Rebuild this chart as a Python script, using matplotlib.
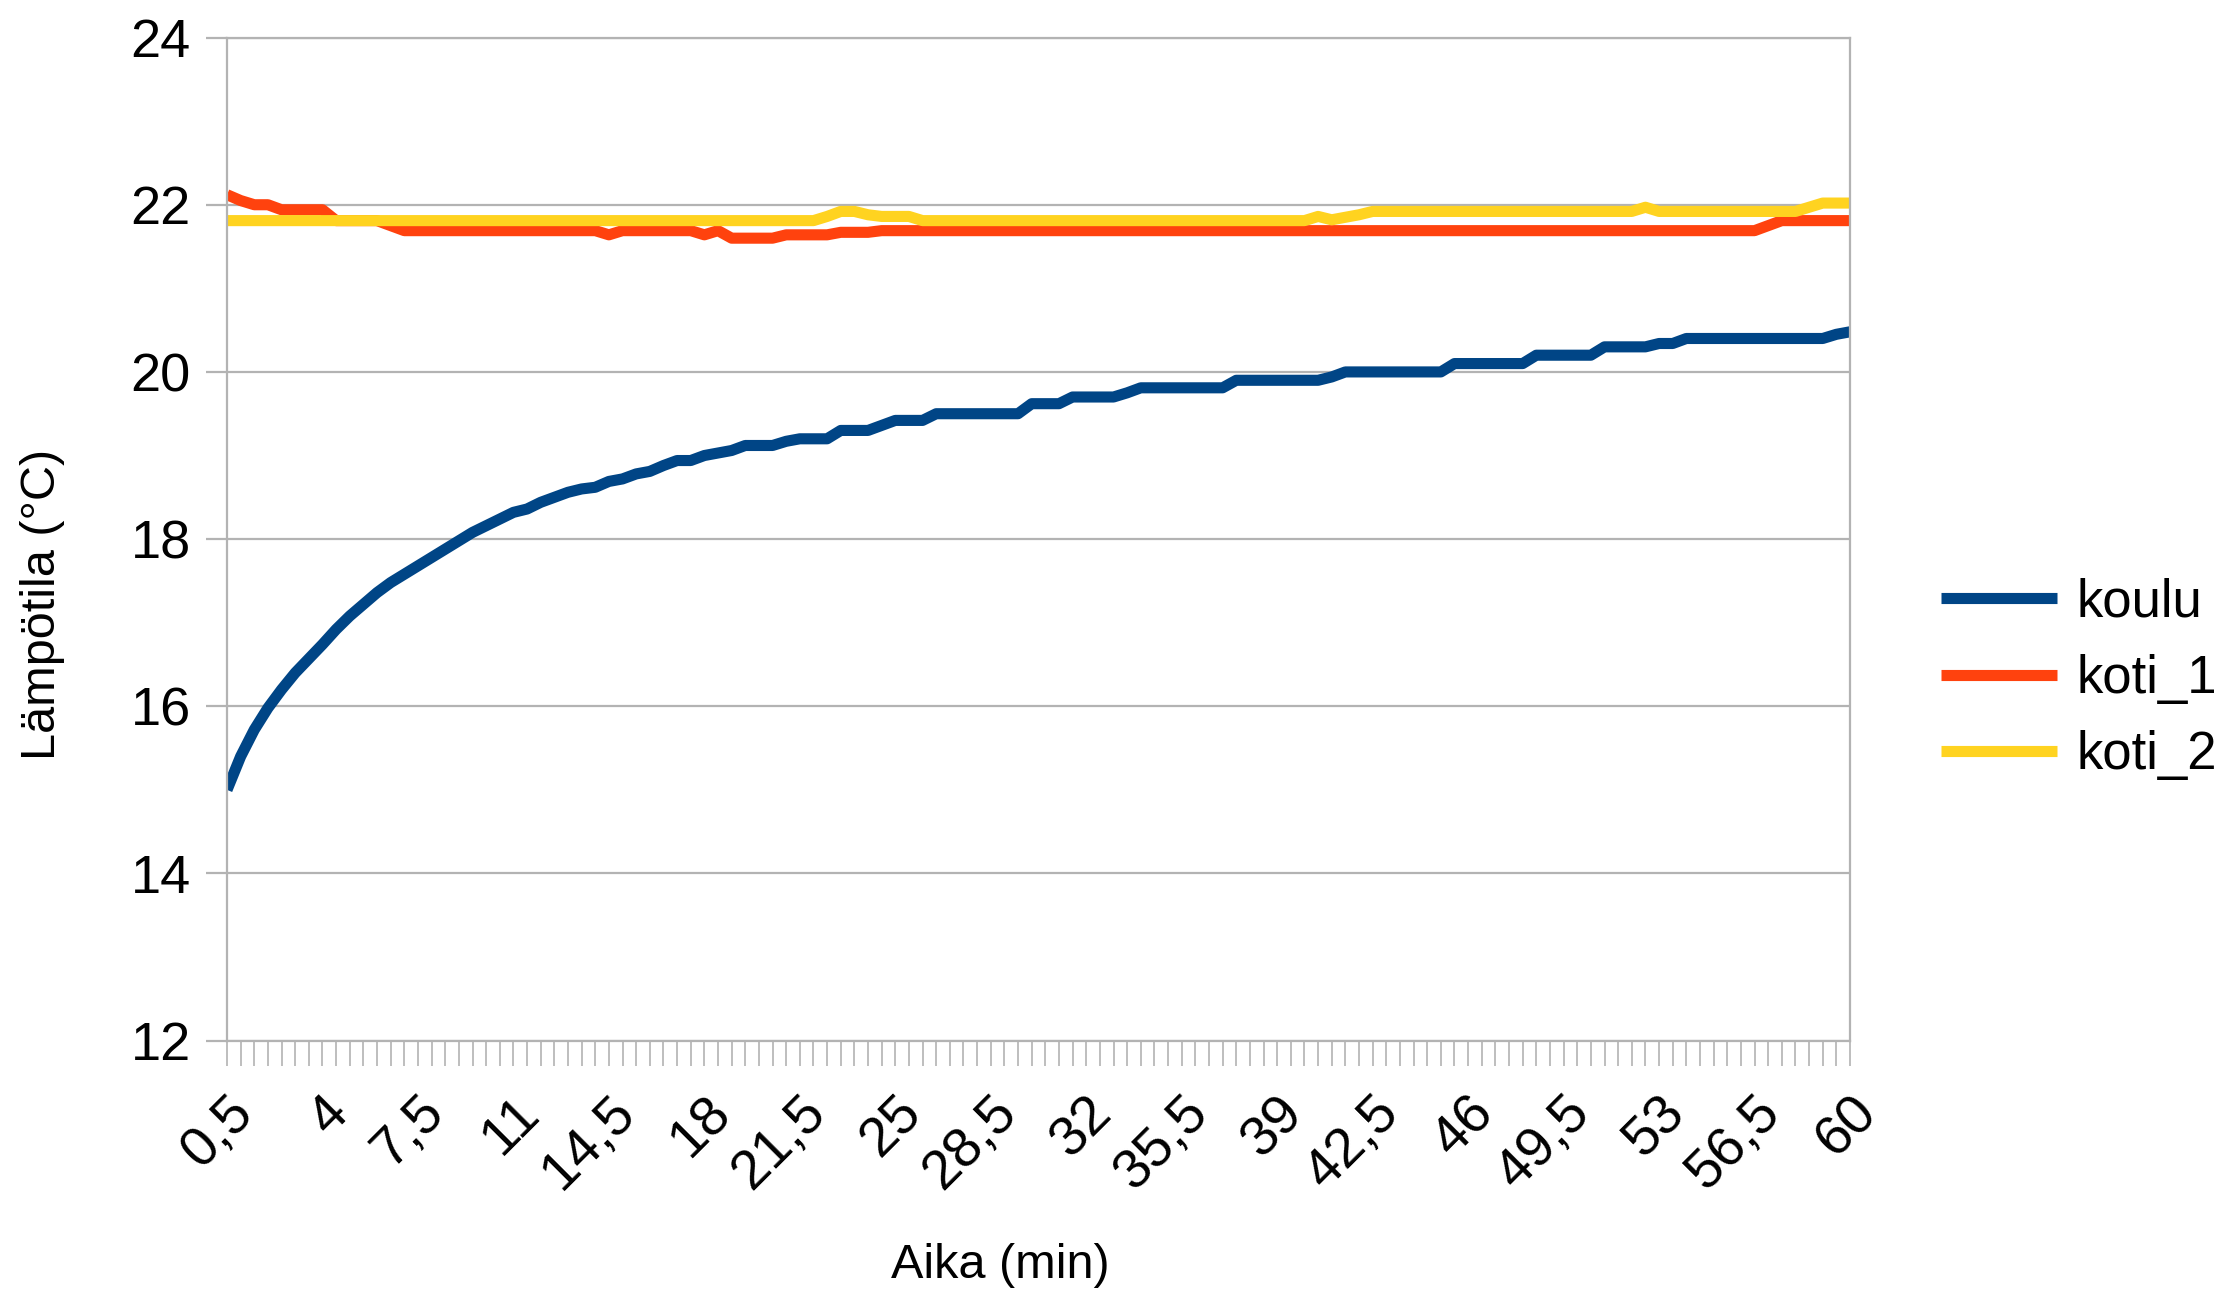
import numpy as np
import matplotlib
matplotlib.use("Agg")
import matplotlib.pyplot as plt

plt.rcParams["font.family"] = ["Liberation Sans", "DejaVu Sans"]

# time categories (min), one reading every half minute
aika = np.arange(0.5, 60.01, 0.5)

koulu = [
    15.0, 15.4, 15.72, 15.98, 16.2, 16.4, 16.57, 16.74, 16.92, 17.08,
    17.22, 17.36, 17.48, 17.58, 17.68, 17.78, 17.88, 17.98, 18.08, 18.16,
    18.24, 18.32, 18.36, 18.44, 18.5, 18.56, 18.6, 18.62, 18.69, 18.72,
    18.78, 18.81, 18.88, 18.94, 18.94, 19.0, 19.03, 19.06, 19.12, 19.12,
    19.12, 19.17, 19.2, 19.2, 19.2, 19.3, 19.3, 19.3, 19.36, 19.42,
    19.42, 19.42, 19.5, 19.5, 19.5, 19.5, 19.5, 19.5, 19.5, 19.62,
    19.62, 19.62, 19.7, 19.7, 19.7, 19.7, 19.75, 19.81, 19.81, 19.81,
    19.81, 19.81, 19.81, 19.81, 19.9, 19.9, 19.9, 19.9, 19.9, 19.9,
    19.9, 19.94, 20.0, 20.0, 20.0, 20.0, 20.0, 20.0, 20.0, 20.0,
    20.1, 20.1, 20.1, 20.1, 20.1, 20.1, 20.2, 20.2, 20.2, 20.2,
    20.2, 20.3, 20.3, 20.3, 20.3, 20.34, 20.34, 20.4, 20.4, 20.4,
    20.4, 20.4, 20.4, 20.4, 20.4, 20.4, 20.4, 20.4, 20.45, 20.48,
]

koti_1 = [
    22.12, 22.05, 22.0, 22.0, 21.94, 21.94, 21.94, 21.94, 21.81, 21.81,
    21.81, 21.81, 21.75, 21.69, 21.69, 21.69, 21.69, 21.69, 21.69, 21.69,
    21.69, 21.69, 21.69, 21.69, 21.69, 21.69, 21.69, 21.69, 21.64, 21.69,
    21.69, 21.69, 21.69, 21.69, 21.69, 21.64, 21.69, 21.6, 21.6, 21.6,
    21.6, 21.64, 21.64, 21.64, 21.64, 21.67, 21.67, 21.67, 21.69, 21.69,
    21.69, 21.69, 21.69, 21.69, 21.69, 21.69, 21.69, 21.69, 21.69, 21.69,
    21.69, 21.69, 21.69, 21.69, 21.69, 21.69, 21.69, 21.69, 21.69, 21.69,
    21.69, 21.69, 21.69, 21.69, 21.69, 21.69, 21.69, 21.69, 21.69, 21.69,
    21.69, 21.69, 21.69, 21.69, 21.69, 21.69, 21.69, 21.69, 21.69, 21.69,
    21.69, 21.69, 21.69, 21.69, 21.69, 21.69, 21.69, 21.69, 21.69, 21.69,
    21.69, 21.69, 21.69, 21.69, 21.69, 21.69, 21.69, 21.69, 21.69, 21.69,
    21.69, 21.69, 21.69, 21.75, 21.81, 21.81, 21.81, 21.81, 21.81, 21.81,
]

koti_2 = [
    21.81, 21.81, 21.81, 21.81, 21.81, 21.81, 21.81, 21.81, 21.81, 21.81,
    21.81, 21.81, 21.81, 21.81, 21.81, 21.81, 21.81, 21.81, 21.81, 21.81,
    21.81, 21.81, 21.81, 21.81, 21.81, 21.81, 21.81, 21.81, 21.81, 21.81,
    21.81, 21.81, 21.81, 21.81, 21.81, 21.81, 21.81, 21.81, 21.81, 21.81,
    21.81, 21.81, 21.81, 21.81, 21.86, 21.92, 21.92, 21.88, 21.86, 21.86,
    21.86, 21.81, 21.81, 21.81, 21.81, 21.81, 21.81, 21.81, 21.81, 21.81,
    21.81, 21.81, 21.81, 21.81, 21.81, 21.81, 21.81, 21.81, 21.81, 21.81,
    21.81, 21.81, 21.81, 21.81, 21.81, 21.81, 21.81, 21.81, 21.81, 21.81,
    21.86, 21.82, 21.85, 21.88, 21.92, 21.92, 21.92, 21.92, 21.92, 21.92,
    21.92, 21.92, 21.92, 21.92, 21.92, 21.92, 21.92, 21.92, 21.92, 21.92,
    21.92, 21.92, 21.92, 21.92, 21.97, 21.92, 21.92, 21.92, 21.92, 21.92,
    21.92, 21.92, 21.92, 21.92, 21.92, 21.92, 21.97, 22.02, 22.02, 22.02,
]

series = ["koulu", "koti_1", "koti_2"]
colors = ["#004586", "#ff420e", "#ffd320"]
GREY = "#b3b3b3"

fig = plt.figure(figsize=(22.3, 12.95), dpi=100)
ax = fig.add_axes([0.1018, 0.1964, 0.7278, 0.7746])

x = np.arange(len(aika))
handles = []
for name, vals, c in zip(series, [koulu, koti_1, koti_2], colors):
    h, = ax.plot(x, vals, color=c, linewidth=8, label=name,
                 solid_joinstyle="round", solid_capstyle="butt")
    handles.append(h)

ax.set_xlim(0, len(aika) - 1)
ax.set_ylim(12, 24)
ax.set_yticks(np.arange(12, 25, 2))
ax.yaxis.grid(True, color=GREY, linewidth=1.6)
ax.set_axisbelow(True)
for s in ax.spines.values():
    s.set_color(GREY)
    s.set_linewidth(1.6)

ax.set_xticks(x)
labels = [f"{t:g}".replace(".", ",") if i % 7 == 0 else "" for i, t in enumerate(aika)]
ax.set_xticklabels(labels, rotation=45, ha="right", va="top", rotation_mode="anchor")
ax.tick_params(axis="x", length=18, width=1.2, color=GREY, pad=15, labelsize=40)
ax.tick_params(axis="y", length=15, width=1.6, color=GREY, pad=11, labelsize=39)

fig.text(43 / 2230, 1 - 604 / 1295, "Lämpötila (°C)", rotation=90,
         ha="center", va="center", fontsize=35)
fig.text(1000 / 2230, 1 - 1266 / 1295, "Aika (min)", ha="center", va="center",
         fontsize=35)

fig.legend(handles, series, loc="center left",
           bbox_to_anchor=(1941 / 2230, 1 - 679 / 1295), frameon=False,
           borderpad=0, borderaxespad=0, handlelength=2.2, handletextpad=0.36,
           labelspacing=0.5, fontsize=38)

fig.savefig("out.png", dpi=100)
